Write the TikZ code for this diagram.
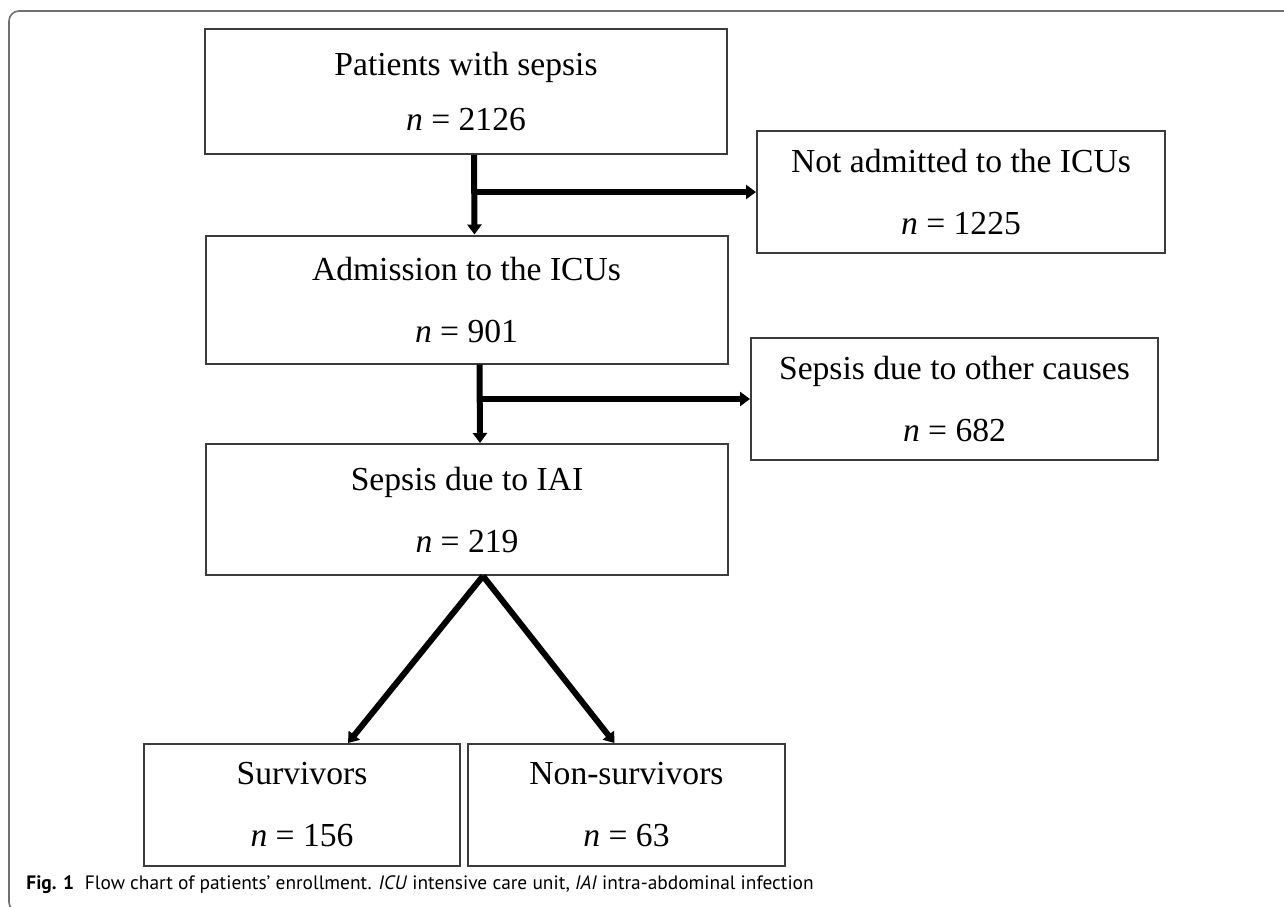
\documentclass[tikz,border=0pt]{standalone}
\usepackage{fontspec}
\setmainfont{Liberation Serif}
\newfontfamily\capfont{PT Sans}
\usepackage{xcolor}
\usepackage{tikz}
\usetikzlibrary{arrows.meta,positioning,calc}
\definecolor{boxgray}{HTML}{3C3C3C}
\definecolor{framegray}{HTML}{707070}
\newcommand{\nval}[1]{\textit{n} = #1}
\tikzset{
  fcbox/.style={
    rectangle, draw=boxgray, fill=white, line width=1pt,
    align=center, inner sep=0pt,
    font=\fontsize{16.8}{31}\selectfont
  },
  fcmain/.style={fcbox, minimum width=261pt, minimum height=64pt},
  fcside/.style={fcbox, minimum width=204pt, minimum height=61pt},
  fcleaf/.style={fcbox, minimum width=158pt, minimum height=61pt},
  fcarrow/.style={-{Triangle[length=5pt,width=7pt]},line width=3pt,draw=black},
  fcframe/.style={draw=framegray,line width=0.8pt,rounded corners=5pt},
  fccaption/.style={anchor=base west,inner sep=0pt,font=\capfont\fontsize{9.7}{11}\selectfont}
}

\begin{document}
\begin{tikzpicture}[x=0.5pt,y=-0.5pt]
  \useasboundingbox (0,0) rectangle (1284,906);
  % frame of the figure and its caption
  \draw[fcframe] (1300,11) -- (9,11) -- (9,912) -- (40,912);
  % main column
  \node[fcmain,minimum height=62.5pt,font=\fontsize{16.8}{27.5}\selectfont] (sepsis) at (466,91.5) {Patients with sepsis\\ \nval{2126}};
  \node[fcmain] (icu) at (466.5,299.5) {Admission to the ICUs\\ \nval{901}};
  \node[fcmain,minimum height=65.5pt] (iai) at (467,509.5) {Sepsis due to IAI\\ \nval{219}};
  % excluded
  \node[fcside] (notadm) at (961,192) {Not admitted to the ICUs\\ \nval{1225}};
  \node[fcside,minimum width=203.5pt] (othercause) at (954.5,399) {Sepsis due to other causes\\ \nval{682}};
  % outcome
  \node[fcleaf] (surv) at (302,805) {Survivors\\ \nval{156}};
  \node[fcleaf,minimum width=158.5pt] (nonsurv) at (626.5,805) {Non-survivors\\ \nval{63}};
  \node[fccaption] (caption) at (26,889) {\textbf{Fig. 1}\hspace{0.55em}Flow chart of patients’ enrollment. \textit{ICU} intensive care unit, \textit{IAI} intra-abdominal infection};
  % connectors
  \coordinate (trunkA) at ([xshift=4pt]sepsis.south);
  \coordinate (trunkB) at ([xshift=6.5pt]icu.south);
  \draw[fcarrow] (trunkA) -- ([xshift=4pt]icu.north);
  \draw[fcarrow] (trunkA |- notadm.west) -- (notadm.west);
  \draw[fcarrow] (trunkB) -- ([xshift=6.5pt]iai.north);
  \draw[fcarrow] (trunkB |- othercause.west) -- (othercause.west);
  \draw[fcarrow] ([xshift=8pt]iai.south) -- ([xshift=23pt]surv.north);
  \draw[fcarrow] ([xshift=8pt]iai.south) -- ([xshift=-6pt]nonsurv.north);
\end{tikzpicture}
\end{document}
